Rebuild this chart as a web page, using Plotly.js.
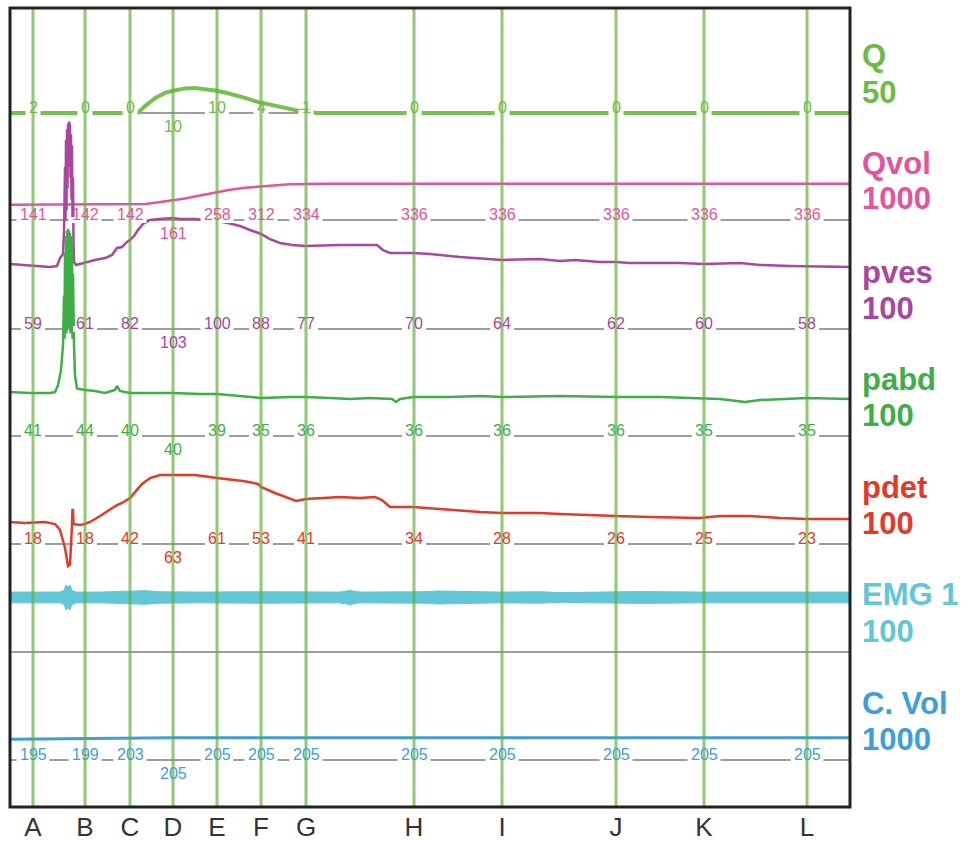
<!DOCTYPE html>
<html><head><meta charset="utf-8">
<script src="https://cdn.plot.ly/plotly-3.0.1.min.js"></script>
<style>html,body{margin:0;padding:0;background:#fff}#chart{width:974px;height:841px}</style>
</head><body><div id="chart"></div>
<script>
// ---- event markers (time in samples) ----
const markerNames = ['A','B','C','D','E','F','G','H','I','J','K','L'];
const markerTimes = [23,75,120,163,207,251,296,404,492,606,694,797];

// ---- Q (ml/s) ----
const qTime = [0,127,130,135,145,155,163,175,185,195,205,215,225,235,242,250,258,265,275,282,287,296,302,306,840];
const qFlow = [0,0,1,3.2,6.9,9.3,10.3,11.4,11.6,11.2,10.4,9.5,8.4,7.0,6.0,4.8,4.1,3.5,2.6,1.8,1.2,0.9,0.4,0,0];
const qLabels = ['2','0','0','10','10','4','1','0','0','0','0','0'];

// ---- Qvol (ml) ----
const qvolTime = [0,120,127,135,145,153,163,175,185,195,207,220,235,251,265,280,296,315,840];
const qvolValues = [141,142,143,148,160,170,181,200,218,236,258,280,298,312,323,331,334,336,336];
const qvolLabels = ['141','142','142','161','258','312','334','336','336','336','336','336'];

// ---- pves (cmH2O) ----
const pvesTime = [0,15,30,40,47,50,53,54,55,55.5,56,56.5,57,57.5,58,58.5,59,60,60.5,61,61.5,62,62.5,63,63.5,64,66,70,75,85,95,102,107,112,117,120,124,128,133,140,150,163,170,185,195,207,218,230,240,251,260,270,282,296,330,367,373,380,403,420,450,492,530,550,565,590,606,620,670,694,730,750,780,797,840];
const pvesValues = [60.2,59.3,58.3,57.4,58.3,65.7,69.4,90,150,100,175,110,185,130,190,150,192,188,140,180,120,170,100,140,80,62,59.3,60.2,62,63.9,65.7,68.5,75,75.9,80.6,82.4,86.1,91.7,97.2,101,101.9,102.8,101.9,101.9,100.9,100,98.1,95.4,91.7,88,83.3,79.6,77.8,76.9,77.8,77.8,73.1,70.4,70.4,69.4,66.7,63.9,64.8,63,63.9,62,62,61.1,61.1,60.2,61.1,59.3,58.3,57.9,57.4];
const pvesLabels = ['59','61','82','103','100','88','77','70','64','62','60','58'];

// ---- pabd (cmH2O) ----
const pabdTime = [0,20,40,45,48,51,53,54,54.5,55,55.5,56,56.5,57,57.5,58,58.5,59,59.5,60,60.5,61,61.5,62,62.5,63,64,65,67,75,85,95,105,107,110,120,140,163,190,207,230,251,280,296,320,340,360,382,386,390,403,440,470,492,550,590,606,650,694,710,735,750,797,840];
const pabdValues = [40.7,39.8,39.8,40.7,47,61,84,130,90,170,100,185,95,190,110,192,100,190,105,188,95,185,100,180,90,150,84,56,44,42.6,41.7,39.8,42.6,46.3,41.7,39.8,39.8,39.8,38.9,38.9,37,35.2,36.1,36.1,35.2,34.3,35.2,34.3,31.5,34.3,36.1,36.1,37,36.1,37,36.1,36.1,36.1,35.2,34.3,31.5,33.3,35.2,34.3];
const pabdLabels = ['41','44','40','40','39','35','36','36','36','36','35','35'];

// ---- pdet (cmH2O) ----
const pdetTime = [0,15,35,45,50,53,55,57,58,60,61,62,62.5,63,63.5,70,75,80,90,100,107,112,120,125,132,140,150,163,185,207,220,235,248,251,265,280,286,296,310,330,350,365,372,380,403,430,450,470,492,530,550,590,606,640,690,710,740,770,797,840];
const pdetValues = [20.4,19.4,20.4,18.5,13,3.7,-3.7,-14.8,-20.4,-19,-5.6,17.6,31.5,31.5,18.5,17.6,18.5,20.4,25.9,32.4,36.1,38,42.6,48,55.6,61.1,63.9,63.9,63.9,61.1,59.5,58,55.6,52.8,47.2,41.7,39.8,41.7,42.6,43.5,42.6,43.5,40.7,34.3,34.3,32.4,30.6,29.6,28.7,28.7,27.8,26.9,25.9,25,24.1,25.9,25.9,24.1,23.1,23.1];
const pdetLabels = ['18','18','42','63','61','53','41','34','28','26','25','23'];

// ---- EMG 1 (envelope) ----
const emgTime = [0,30,50,54,56,58,60,62,66,90,120,135,150,190,250,330,340,350,410,430,490,530,550,590,630,690,750,790,840];
const emgUpper = [55.5,55.8,55.5,57,62,60,62,57,55.5,55.5,56,56.8,55.8,55.5,55.8,55.5,57,55.5,55.8,56.5,55.5,55.8,55,55.5,56,55.5,55.8,55.5,55.5];
const emgLower = [45.5,45.2,45.5,44,39,41,39,44,45.5,45.5,45,44.2,45.2,45.5,45.2,45.5,44,45.5,45.2,44.5,45.5,45.2,46,45.5,45,45.5,45.2,45.5,45.5];

// ---- C. Vol (ml) ----
const cvolTime = [0,23,50,75,100,120,140,163,840];
const cvolValues = [193,195,197,199,201,203,204,205,205];
const cvolLabels = ['195','199','203','205','205','205','205','205','205','205','205','205'];

// ---- channel names / full scales ----
const channelNames = ['Q','Qvol','pves','pabd','pdet','EMG 1','C. Vol'];
const channelScales = ['50','1000','100','100','100','100','1000'];

// ================= layout geometry =================
const M = {l:10, r:124, t:8, b:34};
const PW = 974 - M.l - M.r, PH = 841 - M.t - M.b;
const BOTTOM = M.t + PH;
const FULL_PX = 108;              // pixels of one full scale
const basePx = [113,220,329,436,544,652,760];
const fullScale = [50,1000,100,100,100,100,1000];
const colors = ['#6dbb47','#e2559c','#a8479c','#3fad48','#e23a27','#63c6d6','#3f9ed9'];
const belowIndex = 3;

const layout = {
  width:974, height:841, margin:M,
  paper_bgcolor:'#fff', plot_bgcolor:'#fff', showlegend:false, hovermode:false,
  font:{family:'Liberation Sans, Arial, sans-serif'},
  xaxis:{range:[0,PW], tickvals:markerTimes, ticktext:markerNames, showgrid:false, zeroline:false,
         ticks:'', showline:false, tickfont:{size:26,color:'#333'}, ticklabelstandoff:2},
  shapes:[], annotations:[]
};
const yIds = ['y','y2','y3','y4','y5','y6','y7'];
yIds.forEach((id,i)=>{
  const s = FULL_PX/fullScale[i];
  const ax = {domain:[0,1], range:[-(BOTTOM-basePx[i])/s, (basePx[i]-M.t)/s], visible:false, fixedrange:true};
  if(i>0) ax.overlaying='y';
  layout[i===0?'yaxis':'yaxis'+(i+1)] = ax;
  // gray baseline
  layout.shapes.push({type:'line', xref:'paper', x0:0, x1:1, yref:id, y0:0, y1:0, layer:'below',
    line:{color:'#9e9e9e', width:2}});
});
const pxToPaper = p => (BOTTOM - p)/PH;

// value labels
const labelSets = [[0,qLabels],[1,qvolLabels],[2,pvesLabels],[3,pabdLabels],[4,pdetLabels],[6,cvolLabels]];
labelSets.forEach(([ci,labs])=>{
  labs.forEach((txt,k)=>{
    const below = (k===belowIndex);
    if(!below){
      const w = txt.length*9+6;
      layout.shapes.push({type:'rect', xref:'x', xsizemode:'pixel', xanchor:markerTimes[k], x0:-w/2, x1:w/2,
        yref:yIds[ci], ysizemode:'pixel', yanchor:0, y0:-3, y1:3, fillcolor:'#fff', line:{width:0}, layer:'above'});
    }
    layout.annotations.push({text:txt, x:markerTimes[k], xref:'x', y:0, yref:yIds[ci], showarrow:false,
      xanchor:'center', yanchor:'middle', yshift: below ? -13.5 : 6,
      font:{size:16, color:colors[ci]}});
  });
});
// vertical event lines
markerTimes.forEach(t=>{
  layout.shapes.push({type:'line', xref:'x', x0:t, x1:t, yref:'paper', y0:0, y1:1, layer:'above',
    line:{color:'rgba(95,175,55,0.68)', width:3}});
});
// frame
layout.shapes.push({type:'rect', xref:'paper', yref:'paper', x0:0, x1:1, y0:0, y1:1, layer:'above',
  line:{color:'#222', width:3}, fillcolor:'rgba(0,0,0,0)'});
// channel names on the right
channelNames.forEach((nm,i)=>{
  const xp = (860 - M.l)/PW;
  layout.annotations.push({text:nm, xref:'paper', x:xp, xanchor:'left', yref:'paper', y:pxToPaper(basePx[i]-57),
    yanchor:'middle', showarrow:false, font:{size:31, color:colors[i], weight:'bold'}});
  layout.annotations.push({text:channelScales[i], xref:'paper', x:xp, xanchor:'left', yref:'paper', y:pxToPaper(basePx[i]-21),
    yanchor:'middle', showarrow:false, font:{size:31, color:colors[i], weight:'bold'}});
});

const traces = [
  {x:qvolTime, y:qvolValues, yaxis:'y2', mode:'lines', line:{color:colors[1], width:2.5}},
  {x:cvolTime, y:cvolValues, yaxis:'y7', mode:'lines', line:{color:colors[6], width:3}},
  {x:emgTime, y:emgLower, yaxis:'y6', mode:'lines', line:{color:colors[5], width:1}},
  {x:emgTime, y:emgUpper, yaxis:'y6', mode:'lines', line:{color:colors[5], width:1}, fill:'tonexty', fillcolor:colors[5]},
  {x:pdetTime, y:pdetValues, yaxis:'y5', mode:'lines', line:{color:colors[4], width:2.5}},
  {x:pvesTime, y:pvesValues, yaxis:'y3', mode:'lines', line:{color:colors[2], width:2.5}},
  {x:pabdTime, y:pabdValues, yaxis:'y4', mode:'lines', line:{color:colors[3], width:2.5}},
  {x:qTime, y:qFlow, yaxis:'y', mode:'lines', line:{color:'#78c04e', width:4}}
];
Plotly.newPlot('chart', traces, layout, {staticPlot:true, displayModeBar:false});
</script></body></html>
